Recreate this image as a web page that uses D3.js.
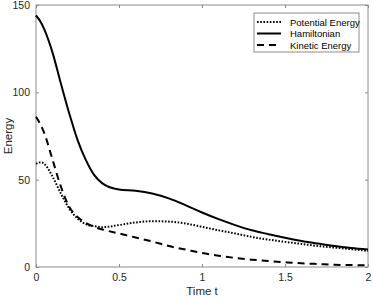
<!DOCTYPE html>
<html>
<head>
<meta charset="utf-8">
<script src="https://cdn.jsdelivr.net/npm/d3@7"></script>
<style>
  body { margin: 0; background: #fff; }
  text { font-family: "Liberation Sans", Arial, sans-serif; }
</style>
</head>
<body>
<div id="chart"></div>
<script>
const times = [0, 0.03, 0.05, 0.1, 0.15, 0.2, 0.25, 0.3, 0.35, 0.4, 0.5, 0.6, 0.7, 0.8, 0.9, 1.0,
  1.1, 1.2, 1.3, 1.4, 1.5, 1.6, 1.7, 1.8, 1.9, 2.0];
const hamiltonian = [144, 140, 136, 122.6, 105, 88, 72.8, 61.3, 52.7, 47.9, 44.4, 43.7, 42.1, 39.3, 35.4, 31.2,
  27.4, 24, 21, 18.8, 16.7, 14.9, 13.4, 12, 10.9, 10];
const potential = [59, 60, 59, 51.7, 42, 33.5, 27.8, 24.5, 23.4, 22.8, 24, 25.5, 26.2, 26, 24.9, 23,
  21, 19.2, 17.2, 15.7, 14.4, 13.2, 12, 11.1, 10.2, 9.2];
const kinetic = [86, 81, 76.6, 61.3, 46, 34.5, 28.7, 25.3, 23, 21.5, 19.2, 16.9, 14.6, 12, 10, 8,
  6.5, 5.2, 4.2, 3.4, 2.7, 2.1, 1.7, 1.3, 1.1, 1];
const xTicks = [0, 0.5, 1, 1.5, 2];
const yTicks = [0, 50, 100, 150];
const seriesNames = ["Potential Energy", "Hamiltonian", "Kinetic Energy"];

const width = 373, height = 298;
const margin = { top: 5, right: 5, bottom: 31, left: 36 };
const w = width - margin.left - margin.right;
const h = height - margin.top - margin.bottom;

const svg = d3.select("#chart").append("svg")
  .attr("width", width)
  .attr("height", height);

const g = svg.append("g")
  .attr("transform", `translate(${margin.left},${margin.top})`);

const x = d3.scaleLinear().domain([0, 2]).range([0, w]);
const y = d3.scaleLinear().domain([0, 150]).range([h, 0]);

const axisColor = "#8c8c8c";

// box
g.append("rect")
  .attr("width", w).attr("height", h)
  .attr("fill", "none").attr("stroke", axisColor).attr("stroke-width", 1);

// axes with inward ticks
const xAxis = g.append("g").attr("transform", `translate(0,${h})`)
  .call(d3.axisBottom(x).tickValues(xTicks).tickSize(-3).tickPadding(7).tickFormat(d3.format("")));
const xTop = g.append("g")
  .call(d3.axisTop(x).tickValues(xTicks).tickSize(-3).tickFormat(""));
const yAxis = g.append("g")
  .call(d3.axisLeft(y).tickValues(yTicks).tickSize(-3).tickPadding(6));
const yRight = g.append("g").attr("transform", `translate(${w},0)`)
  .call(d3.axisRight(y).tickValues(yTicks).tickSize(-3).tickFormat(""));

[xAxis, xTop, yAxis, yRight].forEach(a => {
  a.select(".domain").remove();
  a.selectAll("line").attr("stroke", axisColor);
  a.selectAll("text").attr("fill", "#262626").attr("font-size", 10.5);
});

// labels
svg.append("text")
  .attr("x", margin.left + w / 2).attr("y", height - 3)
  .attr("text-anchor", "middle").attr("font-size", 11.5).attr("fill", "#262626")
  .text("Time t");
svg.append("text")
  .attr("transform", `translate(12,${margin.top + h / 2}) rotate(-90)`)
  .attr("text-anchor", "middle").attr("font-size", 11.5).attr("fill", "#262626")
  .text("Energy");

const line = d3.line().curve(d3.curveMonotoneX)
  .x((d, i) => x(times[i]))
  .y(d => y(d));

const styles = [
  { data: potential, dash: "1.6,1.6", width: 2 },
  { data: hamiltonian, dash: null, width: 2 },
  { data: kinetic, dash: "7,5", width: 2 }
];

styles.forEach(s => {
  g.append("path")
    .datum(s.data)
    .attr("d", line)
    .attr("fill", "none")
    .attr("stroke", "#000")
    .attr("stroke-width", s.width)
    .attr("stroke-dasharray", s.dash);
});

// legend
const legend = svg.append("g").attr("transform", "translate(254,13)");
legend.append("rect")
  .attr("width", 105).attr("height", 39)
  .attr("fill", "#fff").attr("stroke", axisColor).attr("stroke-width", 1);
seriesNames.forEach((name, i) => {
  const ly = 9 + i * 11.5;
  legend.append("line")
    .attr("x1", 3).attr("x2", 27).attr("y1", ly).attr("y2", ly)
    .attr("stroke", "#000").attr("stroke-width", 2)
    .attr("stroke-dasharray", styles[i].dash);
  legend.append("text")
    .attr("x", 36).attr("y", ly + 3.5)
    .attr("font-size", 9.5).attr("fill", "#000")
    .text(name);
});
</script>
</body>
</html>
